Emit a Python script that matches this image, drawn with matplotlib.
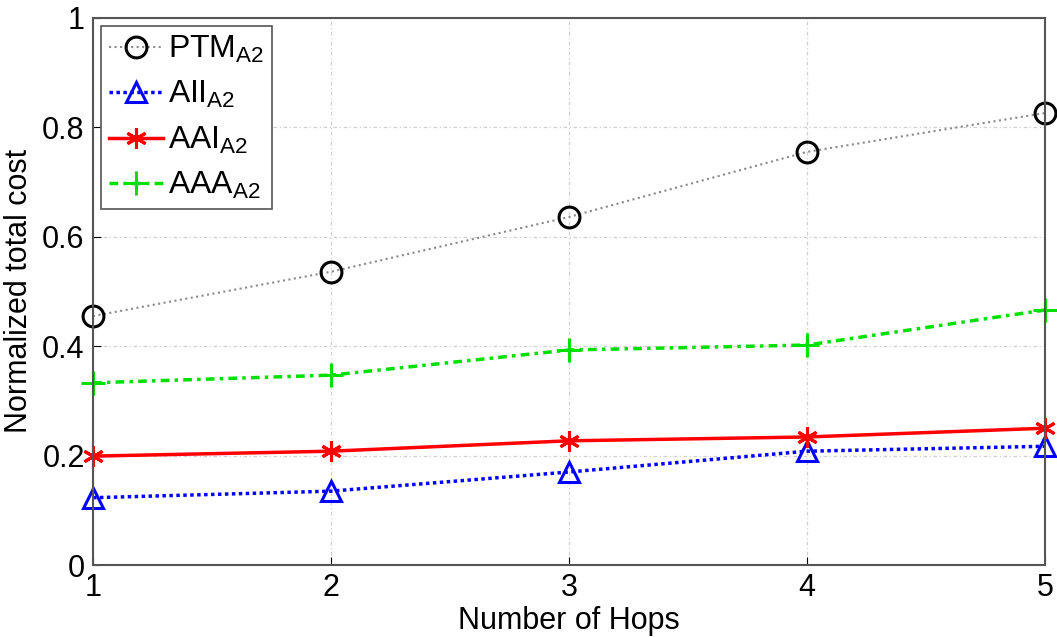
import matplotlib.pyplot as plt
import numpy as np

hops = [1, 2, 3, 4, 5]
ptm = [0.455, 0.536, 0.636, 0.755, 0.826]
aii = [0.123, 0.135, 0.170, 0.208, 0.217]
aai = [0.199, 0.208, 0.227, 0.234, 0.250]
aaa = [0.333, 0.347, 0.393, 0.402, 0.466]

plt.rcParams['font.family'] = ['Liberation Sans', 'DejaVu Sans']
plt.rcParams['mathtext.fontset'] = 'custom'
plt.rcParams['mathtext.rm'] = 'Liberation Sans'
plt.rcParams['mathtext.it'] = 'Liberation Sans'

fig = plt.figure(figsize=(10.57, 6.37), dpi=100)
ax = fig.add_axes([0.088, 0.113, 0.9005, 0.859])

ax.plot(hops, ptm, linestyle=':', color='#8a8a8a', lw=1.5, marker='o', ms=15,
        mfc='none', mec='black', mew=2.2, label=r'PTM$_{\mathrm{A2}}$', clip_on=False)
ax.plot(hops, aii, linestyle=(0, (1, 1)), color='blue', lw=2.5, marker='^', ms=15,
        mfc='none', mec='blue', mew=2.2, label=r'AII$_{\mathrm{A2}}$', clip_on=False)
ax.plot(hops, aai, linestyle='-', color='red', lw=2.5, marker=(6, 2, 0), ms=15,
        mec='red', mew=2.2, label=r'AAI$_{\mathrm{A2}}$', clip_on=False)
ax.plot(hops, aaa, linestyle=(0, (2.5, 1.5, 1, 1.5)), color='#00e000', lw=2.5, marker='+', ms=17,
        mec='#00e000', mew=2.2, label=r'AAA$_{\mathrm{A2}}$', clip_on=False)

ax.set_xlim(1, 5)
ax.set_ylim(0, 1)
ax.set_xticks(hops)
ax.set_yticks([0, 0.2, 0.4, 0.6, 0.8, 1])
ax.set_yticklabels(['0', '0.2', '0.4', '0.6', '0.8', '1'])
ax.tick_params(labelsize=22, direction='in', length=6, pad=6)
ax.grid(True, linestyle=(0, (3, 2, 1, 2)), color='#d0d0d0', lw=0.9)
for s in ax.spines.values():
    s.set_color('#555555')
    s.set_linewidth(1.5)

ax.set_xlabel('Number of Hops', fontsize=22, labelpad=2)
ax.set_ylabel('Normalized total cost', fontsize=22, labelpad=6)

leg = ax.legend(loc='upper left', fontsize=23, handlelength=1.7, handletextpad=0.15,
                borderaxespad=0.25, fancybox=False, framealpha=1, labelspacing=0.45,
                borderpad=0.25)
leg.get_frame().set_edgecolor('#555555')
leg.get_frame().set_linewidth(1.2)

plt.savefig('out.png', dpi=100)
